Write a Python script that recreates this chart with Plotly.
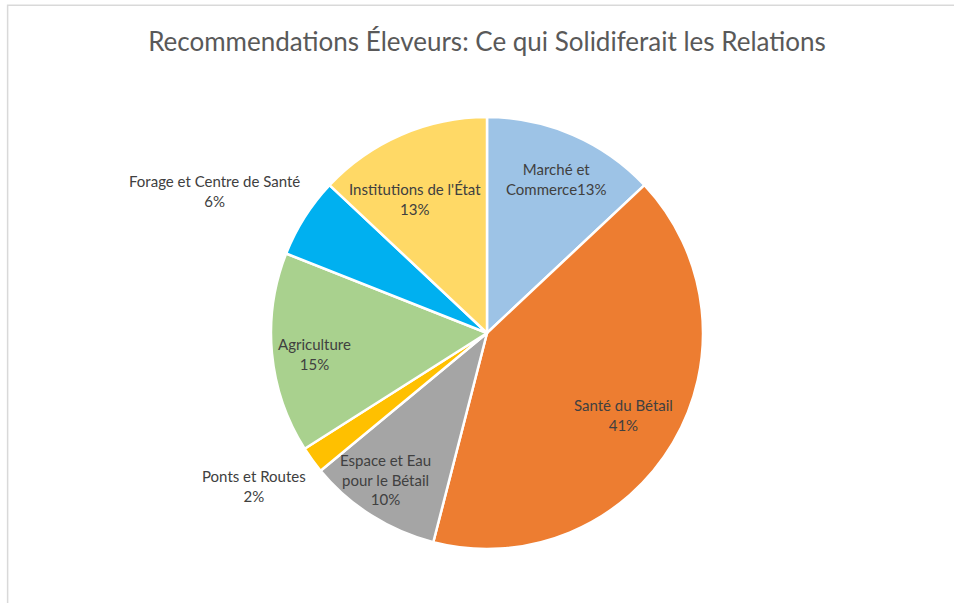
import math

import plotly.graph_objects as go

W, H = 954, 603

labels = [
    "Marché et<br>Commerce",
    "Santé du Bétail",
    "Espace et Eau<br>pour le Bétail",
    "Ponts et Routes",
    "Agriculture",
    "Forage et Centre de Santé",
    "Institutions de l'État",
]
values = [13, 41, 10, 2, 15, 6, 13]
colors = ["#9DC3E6", "#ED7D31", "#A5A5A5", "#FFC000", "#A9D18E", "#00B0F0", "#FFD966"]

# label placement: distance from centre (fraction of radius), angle nudge (deg)
label_radius = [0.79, 0.74, 0.83, 1.30, 0.81, 1.43, 0.71]
label_nudge = [0.9, 0.3, 2.5, 2.7, -1.5, -4.9, -4.9]
label_sep = ["", "<br>", "<br>", "<br>", "<br>", "<br>", "<br>"]

# pie centre and radius in pixels
CX, CY, R = 487, 333, 215
BOX = 2 * R + 3
PL = CX - BOX / 2
PT = CY - BOX / 2


def px(x):
    return (x - PL) / BOX


def py(y):
    return (PT + BOX - y) / BOX


fig = go.Figure(
    go.Pie(
        labels=labels,
        values=values,
        sort=False,
        direction="clockwise",
        rotation=0,
        marker=dict(colors=colors, line=dict(color="white", width=2.5)),
        textinfo="none",
        hoverinfo="label+percent",
        showlegend=False,
    )
)

total = sum(values)
cum = 0
for lab, v, f, nudge, sep in zip(labels, values, label_radius, label_nudge, label_sep):
    mid = (cum + v / 2) / total * 2 * math.pi + math.radians(nudge)
    cum += v
    fig.add_annotation(
        x=px(CX + R * f * math.sin(mid)),
        y=py(CY - R * f * math.cos(mid)),
        xref="paper",
        yref="paper",
        xanchor="center",
        yanchor="middle",
        text=f"{lab}{sep}{round(100 * v / total)}%",
        showarrow=False,
        font=dict(size=15, color="#404040", family="Lato"),
        align="center",
    )

# thin frame of the original chart area
fig.add_shape(
    type="rect",
    xref="paper",
    yref="paper",
    x0=px(6.5),
    x1=px(W + 30),
    y0=py(H + 30),
    y1=py(4.5),
    line=dict(color="#D9D9D9", width=1.5),
    fillcolor="rgba(0,0,0,0)",
)

fig.update_layout(
    width=W,
    height=H,
    title=dict(
        text="Recommendations Éleveurs: Ce qui Solidiferait les Relations",
        x=487 / W,
        xanchor="center",
        y=1 - 42 / H,
        yanchor="middle",
        font=dict(size=26, color="#595959", family="Lato"),
    ),
    margin=dict(l=PL, r=W - PL - BOX, t=PT, b=H - PT - BOX),
    paper_bgcolor="white",
    plot_bgcolor="white",
)

fig.write_html(
    "out.html",
    config={"displayModeBar": False},
    post_script="document.body.style.margin = '0';",
)
